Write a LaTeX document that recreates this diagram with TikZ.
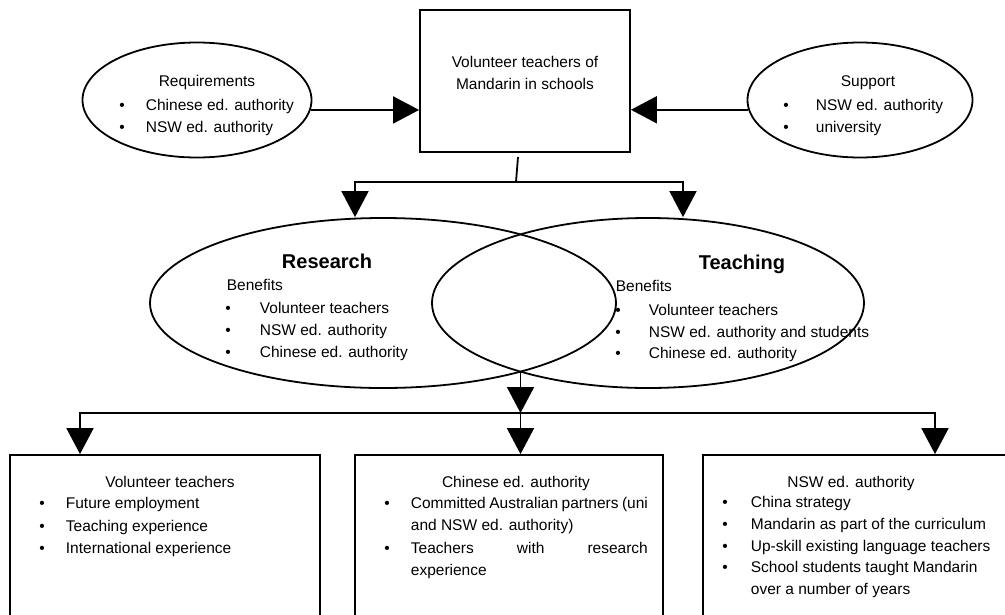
\documentclass[tikz,border=0pt]{standalone}
\usepackage{fontspec}
\setmainfont{Liberation Sans}
\usetikzlibrary{arrows.meta,shapes.geometric}
\begin{document}
\begin{tikzpicture}[x=1pt,y=-1pt,
  line width=1.8pt,
  arr/.style={line width=1.8pt,-{Triangle[width=27pt,length=26pt]}},
  shp/.style={draw,line width=1.8pt,inner sep=0pt},
  el/.style={shp,ellipse},
  txt/.style={inner sep=0pt,font=\fontsize{15.5}{18}\selectfont},
  head/.style={inner sep=0pt,font=\fontsize{20}{24}\selectfont\bfseries},
  ]
\useasboundingbox (0,0) rectangle (1005,614);
\clip (0,0) rectangle (1005,614);

% shapes
\node[shp, minimum width=210pt, minimum height=142pt] (top) at (525,81) {};
\node[el, minimum width=229pt, minimum height=115pt] (req) at (197,100) {};
\node[el, minimum width=225pt, minimum height=115pt] (sup) at (860,100) {};
\node[el, minimum width=466pt, minimum height=170pt] (res) at (383,303) {};
\node[el, minimum width=432pt, minimum height=170pt] (tea) at (648,303) {};
\node[shp, minimum width=310pt, minimum height=180pt] (b1) at (165,545) {};
\node[shp, minimum width=308pt, minimum height=180pt] (b2) at (509,545) {};
\node[shp, minimum width=312pt, minimum height=180pt] (b3) at (859,545) {};

% connectors
\draw[arr] (req.-5) -- (top.west |- req.-5);
\draw[arr] (sup.185) -- (top.east |- sup.185);
\coordinate (s1) at (518,157);
\coordinate (s2) at (516,182);
\coordinate (hl) at (355,182);
\coordinate (hr) at (683,182);
\draw (s1) -- (s2);
\draw[arr] (s2) -- (hl) -- (hl |- res.north);
\draw[arr] (s2) -- (hr) -- (hr |- tea.north);
\coordinate (isect) at (520.5,371.6);
\coordinate (m) at (520.5,413);
\coordinate (ml) at (80,413);
\coordinate (mr) at (935,413);
\draw[arr] (isect) -- (m);
\draw[arr] (m) -- (ml) -- (ml |- b1.north);
\draw[arr] (m) -- (mr) -- (mr |- b3.north);
\draw[arr] (m) -- (m |- b2.north);

% top box text
\node[txt,anchor=base] (t1) at (525,67) {Volunteer teachers of};
\node[txt,anchor=base] (t2) at (525,89) {Mandarin in schools};

% requirements
\node[txt,anchor=base] (rq0) at (207,86) {Requirements};
\node[txt,anchor=base] (rq1b) at (122,110) {•};
\node[txt,anchor=base west] (rq1) at (145,110) {Chinese ed. authority};
\node[txt,anchor=base] (rq2b) at (122,132) {•};
\node[txt,anchor=base west] (rq2) at (145,132) {NSW ed. authority};

% support
\node[txt,anchor=base] (sp0) at (868,86) {Support};
\node[txt,anchor=base] (sp1b) at (786,110) {•};
\node[txt,anchor=base west] (sp1) at (815,110) {NSW ed. authority};
\node[txt,anchor=base] (sp2b) at (786,132) {•};
\node[txt,anchor=base west] (sp2) at (815,132) {university};

% research
\node[head,anchor=base] (rs0) at (327,268) {Research};
\node[txt,anchor=base west] (rs1) at (226,290) {Benefits};
\node[txt,anchor=base] (rs2b) at (228,313) {•};
\node[txt,anchor=base west] (rs2) at (259,313) {Volunteer teachers};
\node[txt,anchor=base] (rs3b) at (228,335) {•};
\node[txt,anchor=base west] (rs3) at (259,335) {NSW ed. authority};
\node[txt,anchor=base] (rs4b) at (228,357) {•};
\node[txt,anchor=base west] (rs4) at (259,357) {Chinese ed. authority};

% teaching
\node[head,anchor=base] (tc0) at (742,269) {Teaching};
\node[txt,anchor=base west] (tc1) at (615,291) {Benefits};
\node[txt,anchor=base] (tc2b) at (618,315) {•};
\node[txt,anchor=base west] (tc2) at (648,315) {Volunteer teachers};
\node[txt,anchor=base] (tc3b) at (618,337) {•};
\node[txt,anchor=base west] (tc3) at (648,337) {NSW ed. authority and students};
\node[txt,anchor=base] (tc4b) at (618,358) {•};
\node[txt,anchor=base west] (tc4) at (648,358) {Chinese ed. authority};

% bottom left
\node[txt,anchor=base] (v0) at (170,487) {Volunteer teachers};
\node[txt,anchor=base] (v1b) at (42,508) {•};
\node[txt,anchor=base west] (v1) at (65,508) {Future employment};
\node[txt,anchor=base] (v2b) at (42,531) {•};
\node[txt,anchor=base west] (v2) at (65,531) {Teaching experience};
\node[txt,anchor=base] (v3b) at (42,553) {•};
\node[txt,anchor=base west] (v3) at (65,553) {International experience};

% bottom middle
\node[txt,anchor=base] (c0) at (516,487) {Chinese ed. authority};
\node[txt,anchor=base] (c1b) at (387,508) {•};
\node[txt,anchor=base west] (c1) at (410,508) {\hbox to 237pt{Committed\hfill Australian\hfill partners\hfill (uni}};
\node[txt,anchor=base west] (c2) at (410,530) {and NSW ed. authority)};
\node[txt,anchor=base] (c3b) at (387,553) {•};
\node[txt,anchor=base west] (c3) at (410,553) {\hbox to 237pt{Teachers\hfill with\hfill research}};
\node[txt,anchor=base west] (c4) at (410,575) {experience};

% bottom right
\node[txt,anchor=base] (n0) at (851,487) {NSW ed. authority};
\node[txt,anchor=base] (n1b) at (725,507) {•};
\node[txt,anchor=base west] (n1) at (750,507) {China strategy};
\node[txt,anchor=base] (n2b) at (725,529) {•};
\node[txt,anchor=base west] (n2) at (750,529) {Mandarin as part of the curriculum};
\node[txt,anchor=base] (n3b) at (725,551) {•};
\node[txt,anchor=base west] (n3) at (750,551) {Up-skill existing language teachers};
\node[txt,anchor=base] (n4b) at (725,572) {•};
\node[txt,anchor=base west] (n4) at (750,572) {School students taught Mandarin};
\node[txt,anchor=base west] (n5) at (750,594) {over a number of years};
\end{tikzpicture}
\end{document}
